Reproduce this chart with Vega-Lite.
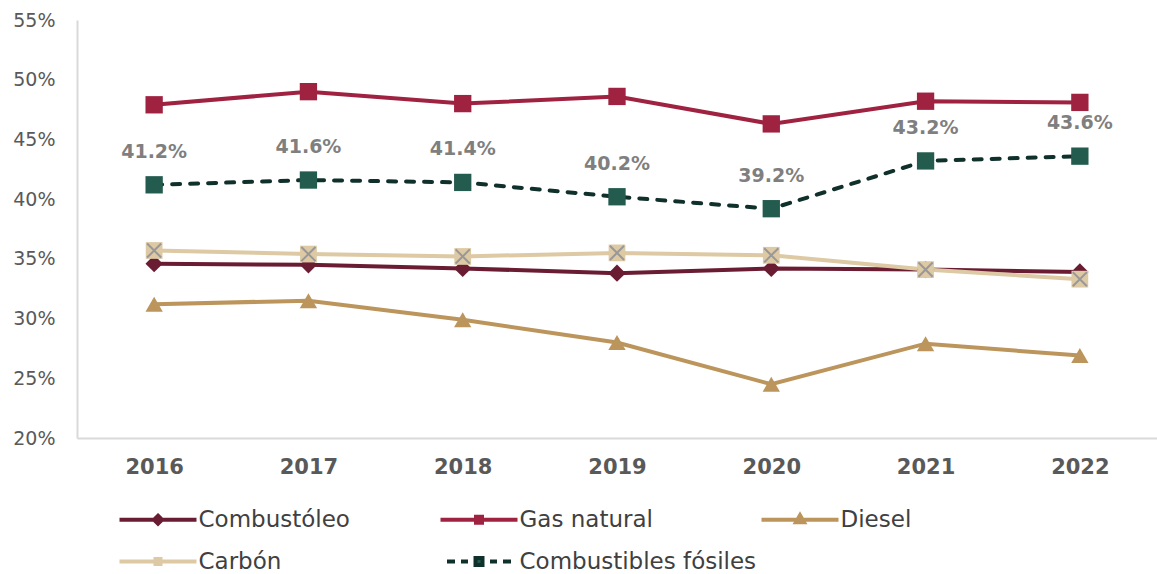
{
  "$schema": "https://vega.github.io/schema/vega-lite/v6.json",
  "width": 1080,
  "height": 418,
  "autosize": "none",
  "padding": {"left": 77, "top": 20, "right": 0, "bottom": 136},
  "background": "white",
  "config": {"font": "DejaVu Sans", "view": {"stroke": null}},
  "data": {
    "values": [
      {"year": "2016", "series": "Combustóleo", "v": 0.346},
      {"year": "2017", "series": "Combustóleo", "v": 0.345},
      {"year": "2018", "series": "Combustóleo", "v": 0.342},
      {"year": "2019", "series": "Combustóleo", "v": 0.338},
      {"year": "2020", "series": "Combustóleo", "v": 0.342},
      {"year": "2021", "series": "Combustóleo", "v": 0.341},
      {"year": "2022", "series": "Combustóleo", "v": 0.339},
      {"year": "2016", "series": "Gas natural", "v": 0.479},
      {"year": "2017", "series": "Gas natural", "v": 0.490},
      {"year": "2018", "series": "Gas natural", "v": 0.480},
      {"year": "2019", "series": "Gas natural", "v": 0.486},
      {"year": "2020", "series": "Gas natural", "v": 0.463},
      {"year": "2021", "series": "Gas natural", "v": 0.482},
      {"year": "2022", "series": "Gas natural", "v": 0.481},
      {"year": "2016", "series": "Diesel", "v": 0.312},
      {"year": "2017", "series": "Diesel", "v": 0.315},
      {"year": "2018", "series": "Diesel", "v": 0.299},
      {"year": "2019", "series": "Diesel", "v": 0.280},
      {"year": "2020", "series": "Diesel", "v": 0.245},
      {"year": "2021", "series": "Diesel", "v": 0.279},
      {"year": "2022", "series": "Diesel", "v": 0.269},
      {"year": "2016", "series": "Carbón", "v": 0.357},
      {"year": "2017", "series": "Carbón", "v": 0.354},
      {"year": "2018", "series": "Carbón", "v": 0.352},
      {"year": "2019", "series": "Carbón", "v": 0.355},
      {"year": "2020", "series": "Carbón", "v": 0.353},
      {"year": "2021", "series": "Carbón", "v": 0.341},
      {"year": "2022", "series": "Carbón", "v": 0.333},
      {"year": "2016", "series": "Combustibles fósiles", "v": 0.412},
      {"year": "2017", "series": "Combustibles fósiles", "v": 0.416},
      {"year": "2018", "series": "Combustibles fósiles", "v": 0.414},
      {"year": "2019", "series": "Combustibles fósiles", "v": 0.402},
      {"year": "2020", "series": "Combustibles fósiles", "v": 0.392},
      {"year": "2021", "series": "Combustibles fósiles", "v": 0.432},
      {"year": "2022", "series": "Combustibles fósiles", "v": 0.436}
    ]
  },
  "encoding": {
    "x": {
      "field": "year", "type": "ordinal",
      "scale": {"type": "point", "padding": 0.5},
      "axis": {"title": null, "labelAngle": 0, "domainColor": "#d9d9d9", "domainWidth": 2, "ticks": false, "grid": false, "labelPadding": 18, "labelFontSize": 21, "labelColor": "#595959", "labelFontWeight": "bold"}
    },
    "y": {
      "field": "v", "type": "quantitative",
      "scale": {"domain": [0.2, 0.55], "nice": false, "zero": false},
      "axis": {"title": null, "format": ".0%", "values": [0.2, 0.25, 0.3, 0.35, 0.4, 0.45, 0.5, 0.55], "domainColor": "#d9d9d9", "domainWidth": 2, "ticks": false, "grid": false, "labelPadding": 22, "labelFontSize": 19, "labelColor": "#595959"}
    }
  },
  "layer": [
    {
      "transform": [{"filter": "datum.series !== 'Combustibles fósiles'"}],
      "mark": {"type": "line", "strokeWidth": 4},
      "encoding": {
        "color": {"field": "series", "type": "nominal",
          "scale": {"domain": ["Diesel", "Combustóleo", "Carbón", "Gas natural"], "range": ["#bc955c", "#691c32", "#ddc9a3", "#9f2241"]},
          "legend": null},
        "order": {"field": "year"}
      }
    },
    {
      "transform": [{"filter": "datum.series === 'Combustibles fósiles'"}],
      "mark": {"type": "line", "strokeWidth": 4, "color": "#10312b", "strokeDash": [8, 10], "strokeCap": "round"},
      "encoding": {}
    },
    {
      "transform": [{"filter": "datum.series !== 'Carbón'"}],
      "mark": {"type": "point", "filled": true, "opacity": 1},
      "encoding": {
        "color": {"field": "series", "type": "nominal",
          "scale": {"domain": ["Diesel", "Combustóleo", "Gas natural", "Combustibles fósiles"], "range": ["#bc955c", "#691c32", "#9f2241", "#235b4e"]},
          "legend": null},
        "shape": {"field": "series", "type": "nominal",
          "scale": {"domain": ["Diesel", "Combustóleo", "Gas natural", "Combustibles fósiles"], "range": ["triangle-up", "diamond", "square", "square"]},
          "legend": null},
        "size": {"field": "series", "type": "nominal",
          "scale": {"domain": ["Diesel", "Combustóleo", "Gas natural", "Combustibles fósiles"], "range": [300, 300, 270, 270]},
          "legend": null}
      }
    },
    {
      "transform": [{"filter": "datum.series === 'Carbón'"}],
      "mark": {"type": "point", "filled": true, "opacity": 1, "size": 280, "shape": "square", "color": "#ddc9a3"},
      "encoding": {}
    },
    {
      "transform": [{"filter": "datum.series === 'Carbón'"}],
      "mark": {"type": "point", "filled": false, "opacity": 1, "size": 200, "shape": "M-1,-1L1,1M1,-1L-1,1", "stroke": "#98989a", "strokeWidth": 2},
      "encoding": {}
    },
    {
      "transform": [{"filter": "datum.series === 'Combustibles fósiles'"}],
      "mark": {"type": "text", "dy": -33, "fontSize": 19, "fontWeight": "bold", "color": "#7f7f7f"},
      "encoding": {"text": {"field": "v", "type": "quantitative", "format": ".1%"}}
    },
    {
      "transform": [{"filter": "datum.v < 0"}],
      "mark": {"type": "point", "size": 100, "strokeWidth": 4, "opacity": 1},
      "encoding": {
        "fill": {"field": "series", "type": "nominal",
          "scale": {"domain": ["Combustóleo", "Gas natural", "Diesel", "Carbón", "Combustibles fósiles"], "range": ["#691c32", "#9f2241", "#bc955c", "#ddc9a3", "#235b4e"]},
          "legend": {"title": null, "orient": "none", "legendX": 41, "legendY": 488, "columns": 3, "direction": "horizontal", "gridAlign": "all", "columnPadding": -4, "rowPadding": 18, "symbolOffset": 28.5, "labelOffset": 29, "labelFontSize": 23, "labelColor": "#404040", "symbolSize": 100, "symbolStrokeWidth": 4, "labelLimit": 400, "symbolOpacity": 1}},
        "stroke": {"field": "series", "type": "nominal",
          "scale": {"domain": ["Combustóleo", "Gas natural", "Diesel", "Carbón", "Combustibles fósiles"], "range": ["#691c32", "#9f2241", "#bc955c", "#ddc9a3", "#10312b"]},
          "legend": {"title": null, "orient": "none", "legendX": 41, "legendY": 488, "columns": 3, "direction": "horizontal", "gridAlign": "all", "columnPadding": -4, "rowPadding": 18, "symbolOffset": 28.5, "labelOffset": 29, "labelFontSize": 23, "labelColor": "#404040", "symbolSize": 100, "symbolStrokeWidth": 4, "labelLimit": 400, "symbolOpacity": 1}},
        "shape": {"field": "series", "type": "nominal",
          "scale": {"domain": ["Combustóleo", "Gas natural", "Diesel", "Carbón", "Combustibles fósiles"],
            "range": [
              "M-7.7,0H7.7M0,-0.8L0.8,0L0,0.8L-0.8,0Z",
              "M-7.7,0H7.7M-0.6,-0.6H0.6V0.6H-0.6Z",
              "M-7.7,0H7.7M0,-0.9L0.8,0.5H-0.8Z",
              "M-7.7,0H7.7M-0.5,-0.5H0.5V0.5H-0.5Z",
              "M-6.4,0H-4.8M-3.6,0H-2.2M2.2,0H3.6M4.8,0H6.4M-0.7,-0.7H0.7V0.7H-0.7Z"
            ]},
          "legend": {"title": null, "orient": "none", "legendX": 41, "legendY": 488, "columns": 3, "direction": "horizontal", "gridAlign": "all", "columnPadding": -4, "rowPadding": 18, "symbolOffset": 28.5, "labelOffset": 29, "labelFontSize": 23, "labelColor": "#404040", "symbolSize": 100, "symbolStrokeWidth": 4, "labelLimit": 400, "symbolOpacity": 1}}
      }
    }
  ],
  "resolve": {"scale": {"color": "independent", "shape": "independent", "size": "independent", "fill": "independent", "stroke": "independent"}}
}
